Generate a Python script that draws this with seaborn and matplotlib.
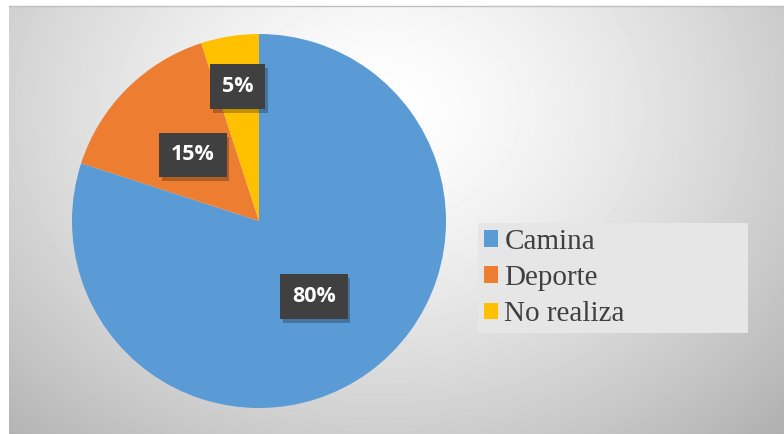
import numpy as np
import matplotlib
matplotlib.use("Agg")
import matplotlib.pyplot as plt
import matplotlib.patheffects as pe
from matplotlib.patches import Patch
import seaborn as sns

categories = ["Camina", "Deporte", "No realiza"]
values = [80, 15, 5]
colors = ["#5B9BD5", "#ED7D31", "#FFC000"]
label_dist = [0.5, 0.5, 0.73]

sns.set_theme(style="white")
plt.rcParams['font.family'] = ['DejaVu Sans']

W, H = 784, 434
fig = plt.figure(figsize=(W / 100, H / 100), dpi=100)
fig.patch.set_facecolor("white")

# background gradient
bg = fig.add_axes([9 / W, 0, (W - 9) / W, (H - 6) / H])
bg.set_axis_off()
yy, xx = np.mgrid[6:H, 9:W]
d = np.sqrt(((xx - 380) / 500.0) ** 2 + ((yy - 110) / 400.0) ** 2)
val = 1 - 0.26 * np.clip(d, 0, 1.2) ** 1.4
bg.imshow(val, cmap="gray", vmin=0, vmax=1, aspect="auto", interpolation="bilinear")
fig.add_artist(plt.Line2D([9 / W, 1], [(H - 5.5) / H] * 2, color="#c0c0c0", lw=1))

# pie axes
cx, cy, R = 259, 221, 187
ax = fig.add_axes([(cx - R) / W, (H - cy - R) / H, 2 * R / W, 2 * R / H])
ax.set_axis_off()
wedges, _ = ax.pie(values, colors=colors, startangle=90, counterclock=False,
                   radius=1, wedgeprops=dict(linewidth=0))
ax.set_xlim(-1, 1)
ax.set_ylim(-1, 1)

for w, v, r in zip(wedges, values, label_dist):
    th = np.deg2rad((w.theta1 + w.theta2) / 2)
    t = ax.text(r * np.cos(th), r * np.sin(th), f"{v}%", ha="center", va="center",
                color="white", fontsize=15.5, fontweight="bold", family="Open Sans",
                bbox=dict(boxstyle="square,pad=0.55", fc="#404040", ec="none"))
    t.get_bbox_patch().set_path_effects([
        pe.SimplePatchShadow(offset=(2, -3), shadow_rgbFace="black", alpha=0.25),
        pe.Normal()])

handles = [Patch(facecolor=c, edgecolor="none") for c in colors]
leg = fig.legend(handles, categories, loc="upper left",
                 bbox_to_anchor=(478 / W, 1 - 331 / H, 270 / W, 108 / H),
                 mode="expand",
                 frameon=True, fancybox=False, framealpha=1,
                 prop=dict(family="Liberation Serif", size=21),
                 handlelength=0.5, handleheight=0.5, handletextpad=0.2,
                 labelspacing=0.35, borderpad=0.2, borderaxespad=0)
leg.get_frame().set_facecolor("#e6e6e6")
leg.get_frame().set_edgecolor("none")
for txt in leg.get_texts():
    txt.set_color("#404040")

fig.savefig("out.png", dpi=100)
